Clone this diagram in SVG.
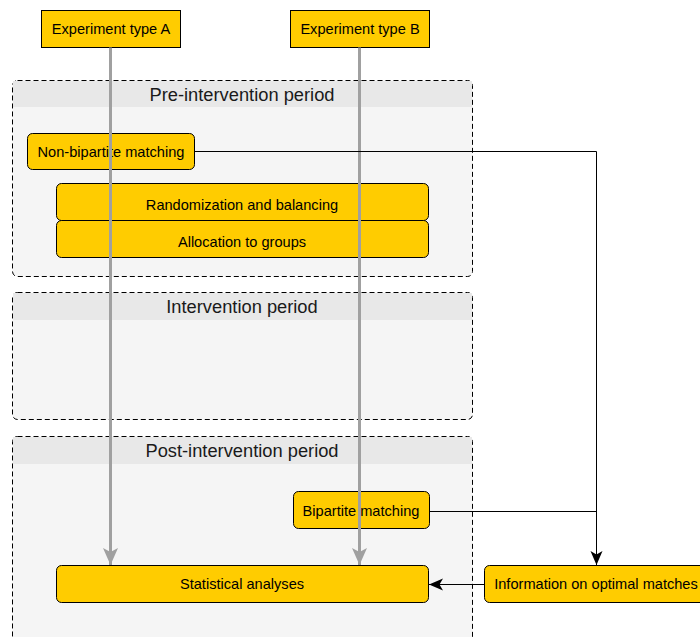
<svg xmlns="http://www.w3.org/2000/svg" width="700" height="637" viewBox="0 0 700 637">
<defs>
<style>
.cont{fill:#f5f5f5;stroke:#000;stroke-width:1;stroke-dasharray:5 3;}
.hdr{fill:#e8e8e8;}
.htxt{font-family:"Liberation Sans",Arial,sans-serif;font-size:18.3px;fill:#1a1a1a;text-anchor:middle;}
.box{fill:#ffcc00;stroke:#000;stroke-width:1;}
.txt{font-family:"Liberation Sans",Arial,sans-serif;font-size:14.6px;fill:#000;text-anchor:middle;}
.gray{stroke:#a0a0a0;stroke-width:3;fill:none;}
.blk{stroke:#000;stroke-width:1;fill:none;}
</style>
<marker id="ag" markerUnits="userSpaceOnUse" markerWidth="18" markerHeight="16" refX="17" refY="8" orient="auto" viewBox="0 0 18 16">
<path d="M0 0.5 L17 8 L0 15.5 L4 8 Z" fill="#a0a0a0"/>
</marker>
<marker id="ab" markerUnits="userSpaceOnUse" markerWidth="15" markerHeight="13" refX="14" refY="6.5" orient="auto" viewBox="0 0 15 13">
<path d="M0 0.5 L14 6.5 L0 12.5 L3.5 6.5 Z" fill="#000"/>
</marker>
</defs>
<g id="pre-intervention">
<rect class="cont" x="12.5" y="80.5" width="460" height="196" rx="5"/>
<rect class="hdr" x="13" y="81" width="459" height="26"/>
<text class="htxt" x="242" y="101">Pre-intervention period</text>
</g>
<g id="intervention">
<rect class="cont" x="12.5" y="292.5" width="460" height="127" rx="5"/>
<rect class="hdr" x="13" y="293" width="459" height="27"/>
<text class="htxt" x="242" y="313">Intervention period</text>
</g>
<g id="post-intervention">
<rect class="cont" x="12.5" y="436.5" width="460" height="210" rx="5"/>
<rect class="hdr" x="13" y="437" width="459" height="27"/>
<text class="htxt" x="242" y="457">Post-intervention period</text>
</g>
<g id="exp-a">
<rect class="box" x="41.5" y="10.5" width="139" height="37"/>
<text class="txt" x="111" y="34">Experiment type A</text>
</g>
<g id="exp-b">
<rect class="box" x="290.5" y="10.5" width="139" height="37"/>
<text class="txt" x="360" y="34">Experiment type B</text>
</g>
<g id="non-bipartite">
<rect class="box" x="27.5" y="133.5" width="167" height="36" rx="5"/>
<text class="txt" x="111" y="157">Non-bipartite matching</text>
</g>
<g id="randomization">
<rect class="box" x="56.5" y="183.5" width="372" height="37" rx="5"/>
<text class="txt" x="242" y="210">Randomization and balancing</text>
</g>
<g id="allocation">
<rect class="box" x="56.5" y="220.5" width="372" height="37" rx="5"/>
<text class="txt" x="242" y="247">Allocation to groups</text>
</g>
<g id="bipartite">
<rect class="box" x="293.5" y="491.5" width="136" height="37" rx="5"/>
<text class="txt" x="361" y="516">Bipartite matching</text>
</g>
<g id="statistical">
<rect class="box" x="56.5" y="565.5" width="372" height="37" rx="5"/>
<text class="txt" x="242" y="589">Statistical analyses</text>
</g>
<g id="info">
<rect class="box" x="484.5" y="565.5" width="230" height="37" rx="5"/>
<text class="txt" x="596" y="589">Information on optimal matches</text>
</g>
<g id="connectors">
<path class="gray" d="M110.5 47.5 V565" marker-end="url(#ag)"/>
<path class="gray" d="M359.5 47.5 V565" marker-end="url(#ag)"/>
<path class="blk" d="M194.5 151.5 H596.5 V565" marker-end="url(#ab)"/>
<path class="blk" d="M429.5 511.5 H596.5"/>
<path class="blk" d="M484 584.5 H429" marker-end="url(#ab)"/>
</g>
</svg>
